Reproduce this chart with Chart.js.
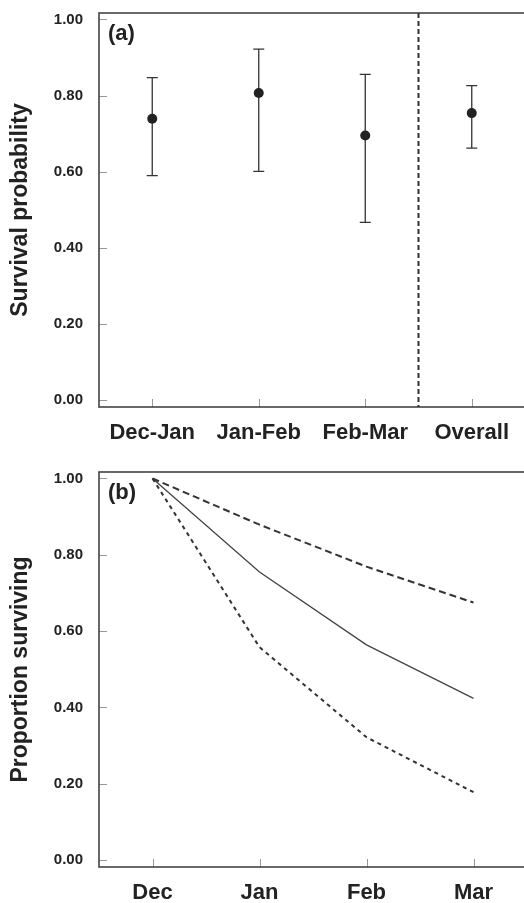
<!DOCTYPE html>
<html>
<head>
<meta charset="utf-8">
<script src="https://cdn.jsdelivr.net/npm/chart.js@4.4.1/dist/chart.umd.min.js"></script>
<style>
    html, body { margin: 0; padding: 0; background: #fff; overflow: hidden; }
    .panel { position: absolute; left: 0; width: 530px; }
    #wrap { position: relative; width: 524px; height: 903px; overflow: hidden; }
</style>
</head>
<body>
<div id="wrap">
    <div class="panel" style="top:0; height:452px;"><canvas id="survivalChart"></canvas></div>
    <div class="panel" style="top:452px; height:451px;"><canvas id="proportionChart"></canvas></div>
</div>
<script>
// Дані панелі (a)
const periods = ['Dec-Jan', 'Jan-Feb', 'Feb-Mar', 'Overall'];
const survival = [0.739, 0.807, 0.695, 0.754];
const survivalLower = [0.590, 0.601, 0.467, 0.662];
const survivalUpper = [0.847, 0.922, 0.856, 0.826];

// Дані панелі (b)
const months = ['Dec', 'Jan', 'Feb', 'Mar'];
const propSurviving = [1.00, 0.755, 0.564, 0.424];
const propUpper = [1.00, 0.879, 0.769, 0.675];
const propLower = [1.00, 0.558, 0.322, 0.178];

const yTicks = [0, 0.2, 0.4, 0.6, 0.8, 1.0];

const textColor = '#222';
const axisColor = '#444';
const tickColor = '#999';
const FONT = 'Arial, "Liberation Sans", Helvetica, sans-serif';

// Осі, рамка та внутрішні риски
function frame(label, extra) {
    return {
        id: 'frame',
        beforeDatasetsDraw(chart) {
            const { ctx, chartArea: a, scales: { x, y } } = chart;
            ctx.save();
            ctx.strokeStyle = tickColor;
            ctx.lineWidth = 1;
            yTicks.forEach(v => {
                const py = Math.round(y.getPixelForValue(v)) + 0.5;
                ctx.beginPath();
                ctx.moveTo(a.left, py);
                ctx.lineTo(a.left + 8, py);
                ctx.stroke();
            });
            x.getLabels().forEach((l, i) => {
                const px = Math.round(x.getPixelForValue(i)) + 0.5;
                ctx.beginPath();
                ctx.moveTo(px, a.bottom);
                ctx.lineTo(px, a.bottom - 8);
                ctx.stroke();
            });
            ctx.strokeStyle = axisColor;
            ctx.lineWidth = 1.6;
            ctx.strokeRect(a.left, a.top, a.right - a.left, a.bottom - a.top);
            if (extra) extra(chart);
            ctx.fillStyle = textColor;
            ctx.font = 'bold 22px ' + FONT;
            ctx.textBaseline = 'middle';
            ctx.textAlign = 'left';
            ctx.fillText(label, a.left + 9, a.top + 21);
            ctx.restore();
        }
    };
}

function yScale(title) {
    return {
        min: -0.018,
        max: 1.017,
        afterBuildTicks: s => { s.ticks = yTicks.map(v => ({ value: v })); },
        afterFit: s => {
            s.width = 99;
            s.paddingTop = 0;
            s.paddingBottom = 0;
        },
        grid: { display: false, drawTicks: false },
        border: { display: false },
        ticks: {
            padding: 16,
            color: textColor,
            font: { family: FONT, size: 15, weight: 'bold' },
            callback: v => v.toFixed(2)
        },
        title: {
            display: true,
            text: title,
            color: textColor,
            font: { family: FONT, size: 23, weight: 'bold' },
            padding: { top: 7, bottom: 0 }
        }
    };
}

function xScale(height) {
    return {
        type: 'category',
        offset: true,
        afterFit: s => {
            s.height = height;
            s.paddingLeft = 0;
            s.paddingRight = 0;
        },
        grid: { display: false, drawTicks: false },
        border: { display: false },
        ticks: {
            padding: 13,
            color: textColor,
            maxRotation: 0,
            autoSkip: false,
            font: { family: FONT, size: 22, weight: 'bold' }
        }
    };
}

// Панель (a): ймовірність виживання з довірчими інтервалами
new Chart(document.getElementById('survivalChart'), {
    type: 'line',
    data: {
        labels: periods,
        datasets: [{
            data: survival,
            showLine: false,
            pointRadius: 5,
            pointHoverRadius: 5,
            pointBackgroundColor: '#222',
            pointBorderWidth: 0
        }]
    },
    options: {
        responsive: true,
        maintainAspectRatio: false,
        animation: false,
        layout: { padding: { top: 13, right: 3, left: 0, bottom: 0 } },
        plugins: { legend: { display: false }, tooltip: { enabled: false } },
        scales: { x: xScale(45), y: yScale('Survival probability') }
    },
    plugins: [frame('(a)', chart => {
        const { ctx, chartArea: a, scales: { x, y } } = chart;
        // пунктирна лінія між сезонами та загальною оцінкою
        const sx = x.getPixelForValue(2.5);
        ctx.save();
        ctx.strokeStyle = '#333';
        ctx.lineWidth = 2;
        ctx.setLineDash([5, 3]);
        ctx.beginPath();
        ctx.moveTo(sx, a.top);
        ctx.lineTo(sx, a.bottom);
        ctx.stroke();
        ctx.restore();

        ctx.save();
        ctx.strokeStyle = '#333';
        ctx.lineWidth = 1.3;
        periods.forEach((p, i) => {
            const px = x.getPixelForValue(i);
            const lo = y.getPixelForValue(survivalLower[i]);
            const hi = y.getPixelForValue(survivalUpper[i]);
            ctx.beginPath();
            ctx.moveTo(px, lo);
            ctx.lineTo(px, hi);
            ctx.moveTo(px - 5.5, lo);
            ctx.lineTo(px + 5.5, lo);
            ctx.moveTo(px - 5.5, hi);
            ctx.lineTo(px + 5.5, hi);
            ctx.stroke();
        });
        ctx.restore();
    })]
});

// Панель (b): частка тих, що вижили
new Chart(document.getElementById('proportionChart'), {
    type: 'line',
    data: {
        labels: months,
        datasets: [
            {
                data: propUpper,
                borderColor: '#333',
                borderWidth: 2,
                borderDash: [7, 4],
                pointRadius: 0,
                tension: 0
            },
            {
                data: propSurviving,
                borderColor: '#444',
                borderWidth: 1.3,
                pointRadius: 0,
                tension: 0
            },
            {
                data: propLower,
                borderColor: '#333',
                borderWidth: 2,
                borderDash: [4, 4],
                pointRadius: 0,
                tension: 0
            }
        ]
    },
    options: {
        responsive: true,
        maintainAspectRatio: false,
        animation: false,
        layout: { padding: { top: 20, right: 3, left: 0, bottom: 0 } },
        plugins: { legend: { display: false }, tooltip: { enabled: false } },
        scales: { x: xScale(36), y: yScale('Proportion surviving') }
    },
    plugins: [frame('(b)')]
});
</script>
</body>
</html>
